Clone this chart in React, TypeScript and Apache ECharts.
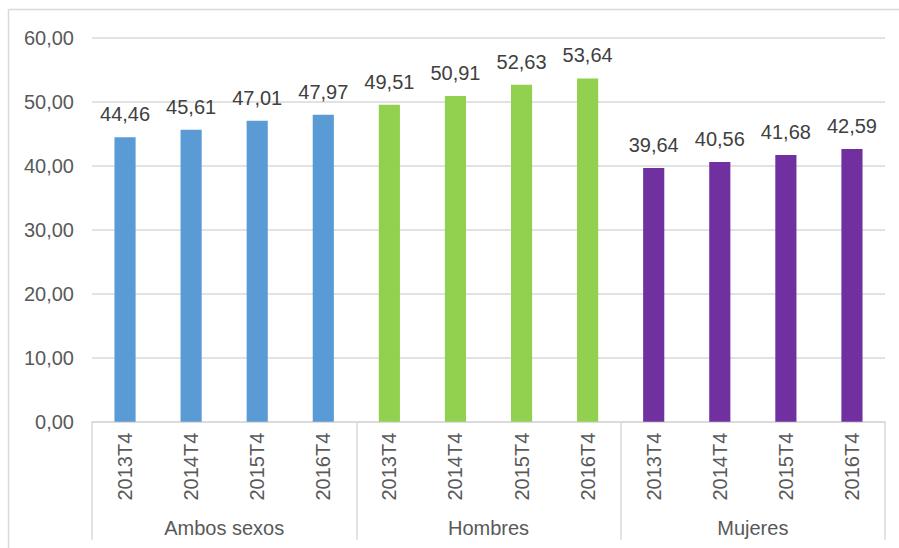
import React, { useEffect, useRef } from "react";
import * as echarts from "echarts";

const years = ["2013T4", "2014T4", "2015T4", "2016T4"];
const groups = ["Ambos sexos", "Hombres", "Mujeres"];
const ambos = [44.46, 45.61, 47.01, 47.97];
const hombres = [49.51, 50.91, 52.63, 53.64];
const mujeres = [39.64, 40.56, 41.68, 42.59];
const groupColors = ["#5B9BD5", "#92D050", "#7030A0"];

const fmt = (v: number) => v.toFixed(2).replace(".", ",");

export default function App() {
  const ref = useRef<HTMLDivElement>(null);
  useEffect(() => {
    if (!ref.current) return;
    const chart = echarts.init(ref.current, undefined, { renderer: "svg" });
    const groupValues = [ambos, hombres, mujeres];
    const cats: string[] = [];
    const data: any[] = [];
    groupValues.forEach((vals, gi) => {
      vals.forEach((v, i) => {
        cats.push(years[i]);
        data.push({ value: v, itemStyle: { color: groupColors[gi] } });
      });
    });
    const font = "'Liberation Sans', Arial, sans-serif";
    const frame = { stroke: "#d9d9d9", lineWidth: 1.5 };
    chart.setOption({
      animation: false,
      backgroundColor: "#ffffff",
      graphic: [
        {
          type: "line",
          shape: { x1: 8.5, y1: 9.5, x2: 899, y2: 9.5 },
          style: frame,
          silent: true,
        },
        {
          type: "line",
          shape: { x1: 8.5, y1: 9.5, x2: 8.5, y2: 548 },
          style: frame,
          silent: true,
        },
      ],
      grid: { left: 92, right: 14, top: 37.7, bottom: 126.3 },
      xAxis: [
        {
          type: "category",
          data: cats,
          position: "bottom",
          axisLine: { show: true, lineStyle: { color: "#d9d9d9", width: 1.5 } },
          axisTick: { show: false },
          axisLabel: {
            rotate: 90,
            margin: 11,
            color: "#595959",
            fontSize: 20,
            fontFamily: font,
            interval: 0,
          },
        },
        {
          type: "category",
          data: groups,
          position: "bottom",
          axisLine: { show: false },
          axisTick: {
            show: true,
            length: 118,
            lineStyle: { color: "#d9d9d9", width: 1.5 },
          },
          axisLabel: {
            margin: 96,
            color: "#595959",
            fontSize: 20,
            fontFamily: font,
            interval: 0,
          },
        },
      ],
      yAxis: {
        type: "value",
        min: 0,
        max: 60,
        interval: 10,
        axisLine: { show: false },
        axisTick: { show: false },
        splitLine: { lineStyle: { color: "#d9d9d9", width: 1.5 } },
        axisLabel: {
          formatter: (v: number) => fmt(v),
          margin: 18,
          color: "#595959",
          fontSize: 20,
          fontFamily: font,
        },
      },
      series: [
        {
          type: "bar",
          xAxisIndex: 0,
          data,
          barWidth: "32%",
          label: {
            show: true,
            position: "top",
            distance: 13,
            formatter: (p: any) => fmt(p.value),
            color: "#404040",
            fontSize: 20,
            fontFamily: font,
          },
        },
      ],
    });
    return () => chart.dispose();
  }, []);
  return (
    <div
      ref={ref}
      style={{ position: "fixed", left: 0, top: 0, width: 899, height: 548 }}
    />
  );
}
